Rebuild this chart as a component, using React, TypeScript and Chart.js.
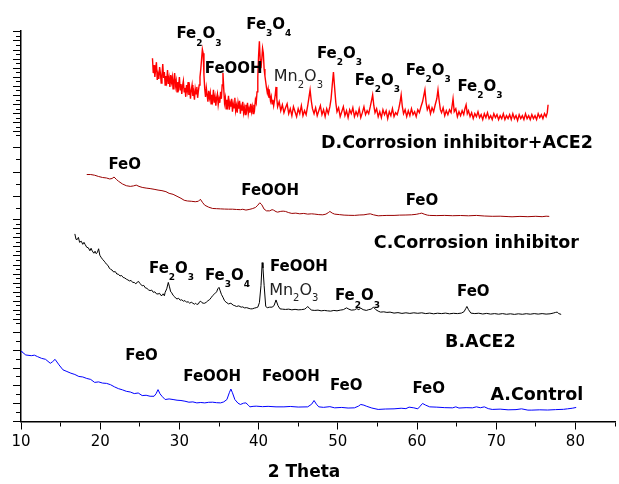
import React, { useEffect, useRef } from "react";
import { Chart, registerables } from "chart.js";

Chart.register(...registerables);

// ---------- DATA (2θ in degrees, intensity in stacked arbitrary units) ----------
const seriesA_Control: [number, number][] = [
  [10.0, 71], [10.1, 70.5], [10.6, 67.2], [11.3, 66.5], [11.7, 67], [12.1, 65.5], [12.6, 63.8], [13.1, 62.8],
  [13.7, 58.8], [14.0, 60.5], [14.3, 62.8], [14.8, 57.2], [15.3, 52.2], [15.8, 50.5], [16.3, 48.8], [16.8, 47.5],
  [17.3, 45.5], [17.8, 45], [18.3, 43.5], [18.8, 42.5], [19.3, 39.5], [19.8, 40], [20.3, 38.8], [20.8, 38.5],
  [21.3, 37.2], [21.8, 35], [22.3, 33.2], [22.8, 32], [23.3, 30.5], [23.8, 29.8], [24.3, 28.2], [24.8, 28.8],
  [25.3, 26.2], [25.8, 26.5], [26.3, 25.5], [26.8, 25.5], [27.05, 28], [27.3, 32.2], [27.55, 28], [27.8, 25.5],
  [28.2, 22.2], [28.7, 22.8], [29.2, 22.2], [29.7, 21.5], [30.2, 21.2], [30.7, 20.5], [31.2, 19.5], [31.7, 19.8],
  [32.2, 18.8], [32.7, 19.2], [33.2, 18.8], [33.7, 19.4], [34.2, 19.5], [34.7, 19], [35.2, 18.8], [35.6, 19.8],
  [36.0, 22.2], [36.3, 29], [36.5, 32.8], [36.7, 29], [37.0, 22.2], [37.4, 18.5], [37.7, 17.2], [38.1, 18.5],
  [38.4, 18.8], [38.7, 16.5], [38.9, 14.8], [39.3, 15.3], [39.7, 15.5], [40.5, 15.0], [41.2, 15.3], [42.2, 14.8],
  [43.2, 14.8], [44.0, 15.2], [45.0, 14.6], [46.2, 14.8], [46.7, 17.5], [47.0, 21.2], [47.3, 17.5], [47.6, 14.8],
  [48.2, 14.3], [49.0, 15.0], [49.6, 13.8], [50.5, 14.2], [51.3, 13.6], [52.1, 13.8], [52.6, 15.5], [52.9, 17.2],
  [53.3, 16.5], [53.6, 15.5], [54.3, 13.6], [55.1, 12.2], [56.0, 12.6], [57.1, 12.8], [58.0, 13.4], [58.6, 13.0],
  [59.0, 14.5], [59.6, 13.8], [60.1, 12.8], [60.4, 15.5], [60.7, 18.2], [61.1, 16.5], [61.6, 14.8], [62.5, 14.5],
  [63.5, 14.0], [64.5, 13.8], [64.9, 14.8], [65.3, 13.6], [66.2, 14.0], [67.0, 13.8], [67.5, 14.8], [68.0, 13.9],
  [68.5, 14.8], [69.0, 13.0], [69.5, 12.2], [70.5, 12.5], [71.5, 11.8], [72.5, 12.0], [73.2, 12.8], [74.0, 11.5],
  [74.5, 11.5], [75.5, 11.8], [76.5, 11.6], [77.5, 12.0], [78.5, 12.3], [79.0, 12.8], [79.6, 13.4], [80.1, 14.2],
];

const seriesB_ACE2: [number, number][] = [
  [16.8, 189.5], [16.95, 184], [17.1, 183.8], [17.25, 186], [17.4, 181], [17.6, 182.2], [17.8, 179], [17.95, 181],
  [18.1, 178.8], [18.3, 176], [18.5, 175.5], [18.7, 172.5], [18.85, 175], [19.0, 172.2], [19.2, 170], [19.35, 172],
  [19.5, 169.5], [19.65, 171], [19.8, 174.5], [19.95, 168], [20.1, 166], [20.3, 163.8], [20.5, 162], [20.65, 160.5],
  [20.8, 158.8], [21.0, 157.5], [21.15, 155], [21.3, 153.8], [21.5, 153], [21.7, 151], [21.9, 151.5], [22.1, 149],
  [22.3, 148.8], [22.5, 147], [22.7, 147.5], [22.9, 145.5], [23.1, 145], [23.3, 143.8], [23.5, 143], [23.7, 142],
  [23.9, 142.5], [24.1, 140.5], [24.3, 140.5], [24.5, 139], [24.7, 141], [24.85, 141.5], [25.0, 139.5], [25.3, 137.2],
  [25.5, 137.5], [25.7, 135], [25.9, 134.5], [26.1, 133], [26.3, 132.2], [26.5, 132.8], [26.7, 130.5], [26.9, 131],
  [27.1, 129], [27.3, 128.8], [27.5, 129.5], [27.65, 127.5], [27.8, 127.2], [27.95, 129], [28.1, 127], [28.2, 130.5],
  [28.4, 134], [28.6, 140.5], [28.75, 136], [28.9, 131], [29.0, 130.5], [29.2, 127.5], [29.4, 126], [29.55, 124.5],
  [29.7, 123.8], [29.9, 124.5], [30.1, 122.5], [30.3, 123], [30.5, 121.5], [30.7, 122.2], [30.9, 120.5], [31.1, 121],
  [31.3, 119.5], [31.5, 120.5], [31.7, 119.5], [31.9, 118.5], [32.05, 119.5], [32.2, 118.2], [32.4, 118.8], [32.55, 121],
  [32.7, 121.5], [32.85, 120], [33.0, 119.5], [33.2, 119.5], [33.4, 120.5], [33.6, 122], [33.8, 123], [34.0, 125],
  [34.2, 127.2], [34.45, 129], [34.7, 131], [34.85, 134], [35.0, 135.5], [35.15, 132], [35.3, 128.5], [35.5, 125.5],
  [35.7, 122], [35.9, 120.5], [36.2, 118.8], [36.5, 119.5], [36.8, 117.5], [37.0, 117], [37.2, 116.2], [37.5, 116.8],
  [37.8, 115.5], [38.0, 115.8], [38.2, 114.8], [38.5, 115], [38.8, 114.2], [39.0, 113.8], [39.2, 113.8], [39.45, 114.5],
  [39.7, 115], [39.9, 115.5], [40.1, 120], [40.3, 137.2], [40.45, 160.5], [40.55, 155], [40.7, 137.2], [40.9, 116.2],
  [41.1, 115], [41.4, 115.5], [41.7, 115.5], [41.95, 117], [42.2, 122.8], [42.45, 117], [42.7, 113.8], [43.0, 113.5],
  [43.4, 113.2], [43.8, 113.5], [44.2, 112.8], [44.6, 113.3], [45.0, 112.8], [45.4, 113], [45.8, 113.5], [46.0, 114.5],
  [46.2, 116.2], [46.45, 114], [46.7, 112.5], [47.1, 112.2], [47.5, 112.5], [47.9, 111.8], [48.3, 112.2], [48.7, 111.8],
  [49.1, 111.5], [49.5, 112.2], [49.9, 111.8], [50.3, 112.5], [50.7, 113], [51.1, 114.8], [51.4, 113.5], [51.7, 112.5],
  [52.1, 112.8], [52.4, 114], [52.65, 113], [52.9, 114.5], [53.2, 113], [53.6, 112.2], [53.9, 113], [54.2, 113.5],
  [54.5, 115.5], [54.8, 113], [55.1, 111.5], [55.4, 110.5], [55.8, 110.8], [56.2, 110.2], [56.6, 110.5], [57.1, 109.5],
  [57.6, 110], [58.1, 109.2], [58.6, 109.8], [59.1, 109.2], [59.6, 109.8], [60.1, 109.3], [60.6, 109.8], [61.1, 109],
  [61.6, 109.5], [62.1, 108.8], [62.6, 109.4], [63.1, 109], [63.6, 109.5], [64.1, 108.8], [64.6, 109.3], [65.1, 109],
  [65.6, 109.5], [65.95, 111], [66.15, 114], [66.3, 116.2], [66.5, 113], [66.8, 109.5], [67.3, 109], [67.8, 109.4],
  [68.3, 108.6], [68.8, 109.2], [69.3, 108.5], [69.8, 109], [70.3, 108.4], [70.8, 109], [71.3, 108.3], [71.8, 108.8],
  [72.3, 108.2], [72.8, 108.8], [73.3, 108.3], [73.8, 108.9], [74.3, 108.4], [74.8, 109], [75.3, 108.5], [75.8, 109],
  [76.3, 108.5], [76.8, 108.8], [77.2, 109.5], [77.5, 110.2], [77.7, 110.5], [77.9, 109], [78.2, 108.2],
];

const seriesC_Inhibitor: [number, number][] = [
  [18.3, 249.5], [18.8, 249.5], [19.3, 248.8], [19.8, 247.5], [20.3, 246.5], [20.8, 246], [21.2, 245], [21.5, 245.5],
  [21.75, 247], [22.05, 244.5], [22.3, 242.8], [22.8, 240], [23.3, 238.2], [23.8, 237.5], [24.2, 238], [24.55, 238.8],
  [24.9, 237.5], [25.3, 236.5], [25.8, 235.8], [26.3, 235.3], [26.8, 234.6], [27.3, 233.8], [27.8, 233.2], [28.3, 232.2],
  [28.7, 230.5], [29.2, 229.5], [29.7, 227.5], [30.2, 225.5], [30.6, 223.5], [31.0, 222.8], [31.5, 222.5], [32.0, 222],
  [32.4, 222.5], [32.65, 224.5], [32.9, 221.5], [33.2, 218.5], [33.7, 216.5], [34.2, 215.2], [34.7, 215], [35.2, 214.8],
  [35.7, 214.6], [36.2, 214.5], [36.7, 214.5], [37.2, 214.2], [37.7, 214], [38.0, 214.4], [38.4, 213.6], [38.8, 214.2],
  [39.2, 215], [39.6, 216.2], [39.9, 218.5], [40.15, 221], [40.4, 219], [40.7, 214.5], [41.0, 212.8], [41.4, 212.8],
  [41.7, 214], [41.9, 213.5], [42.2, 212], [42.4, 211.5], [42.8, 212.3], [43.1, 212.5], [43.4, 212.2], [43.8, 211],
  [44.2, 210.2], [44.7, 210.5], [45.2, 209.8], [45.7, 210.2], [46.2, 209.5], [46.7, 209.8], [47.1, 209.5], [47.6, 209],
  [48.1, 208.8], [48.5, 209.5], [48.8, 211], [49.0, 212.2], [49.3, 210.5], [49.6, 209.5], [50.2, 209], [50.8, 208.5],
  [51.4, 208.3], [52.1, 208.2], [52.7, 208.6], [53.3, 208.8], [53.8, 209.5], [54.1, 209.8], [54.5, 208.8], [55.1, 207.8],
  [55.6, 208], [56.2, 208.2], [57.1, 208.2], [57.8, 208.5], [58.6, 208.6], [59.3, 208.8], [59.9, 209.3], [60.3, 210],
  [60.6, 210.5], [60.9, 209.5], [61.3, 208.5], [61.6, 208.2], [62.5, 208], [63.5, 208.2], [64.5, 207.9], [65.5, 208.1],
  [66.5, 207.8], [67.5, 208.2], [68.5, 207.6], [69.5, 207.3], [70.5, 207.4], [71.5, 207], [72.0, 206.8], [73.0, 207.2],
  [74.0, 206.9], [75.0, 207.3], [75.8, 206.9], [76.3, 207.4], [76.7, 207.2],
];

const seriesD_InhibitorACE2: [number, number][] = [
  [26.6, 367], [26.7, 352], [26.8, 360], [26.9, 348], [27.0, 356], [27.1, 363], [27.2, 345], [27.3, 351],
  [27.4, 346], [27.5, 358], [27.6, 352], [27.7, 342], [27.8, 350], [27.9, 361], [28.0, 347], [28.1, 353],
  [28.2, 340], [28.3, 349], [28.4, 344], [28.5, 355], [28.6, 341], [28.7, 347], [28.8, 338], [28.9, 350],
  [29.0, 343], [29.1, 348], [29.2, 336], [29.3, 345], [29.4, 352], [29.5, 339], [29.6, 344], [29.7, 333],
  [29.8, 343], [29.9, 338], [30.0, 348], [30.1, 335], [30.2, 341], [30.3, 331], [30.4, 339], [30.5, 344],
  [30.6, 333], [30.7, 337], [30.8, 328], [30.9, 340], [31.0, 334], [31.1, 343], [31.2, 330], [31.3, 336],
  [31.4, 326], [31.5, 335], [31.6, 340], [31.7, 329], [31.8, 333], [31.9, 325], [32.0, 336], [32.1, 331],
  [32.2, 338], [32.3, 327], [32.4, 334], [32.5, 340], [32.6, 348], [32.7, 356], [32.8, 366], [32.9, 376],
  [33.0, 372], [33.1, 350], [33.2, 336], [33.3, 328], [33.4, 337], [33.5, 330], [33.6, 323], [33.7, 334],
  [33.8, 327], [33.9, 332], [34.0, 321], [34.1, 330], [34.2, 325], [34.3, 335], [34.4, 322], [34.5, 328],
  [34.6, 319], [34.7, 327], [34.8, 331], [34.9, 320], [35.0, 326], [35.1, 322], [35.2, 333], [35.3, 326],
  [35.4, 340], [35.5, 352], [35.6, 336], [35.7, 322], [35.8, 327], [35.9, 316], [36.0, 325], [36.1, 320],
  [36.2, 329], [36.3, 315], [36.4, 322], [36.5, 318], [36.6, 326], [36.7, 313], [36.8, 321], [36.9, 317],
  [37.0, 327], [37.1, 314], [37.2, 319], [37.3, 312], [37.4, 322], [37.5, 316], [37.6, 324], [37.7, 311],
  [37.8, 318], [37.9, 314], [38.0, 323], [38.1, 312], [38.2, 317], [38.3, 310], [38.4, 320], [38.5, 315],
  [38.6, 322], [38.7, 311], [38.8, 316], [38.9, 312], [39.0, 321], [39.1, 313], [39.2, 318], [39.3, 311],
  [39.4, 320], [39.5, 316], [39.6, 325], [39.7, 322], [39.8, 333], [39.9, 348], [40.0, 370], [40.1, 384],
  [40.2, 366], [40.3, 357], [40.4, 366], [40.5, 377], [40.6, 372], [40.7, 356], [40.8, 349], [40.9, 343],
  [41.0, 337], [41.1, 332], [41.2, 336], [41.3, 327], [41.4, 331], [41.5, 324], [41.6, 328], [41.7, 321],
  [41.8, 325], [41.9, 319], [42.0, 324], [42.1, 330], [42.2, 338], [42.3, 326], [42.4, 318], [42.6, 323],
  [42.8, 314], [43.0, 320], [43.2, 312], [43.4, 317], [43.6, 321], [43.8, 311], [44.0, 316], [44.2, 309],
  [44.4, 318], [44.6, 313], [44.8, 308], [45.0, 316], [45.2, 311], [45.4, 319], [45.6, 309], [45.8, 314],
  [46.0, 310], [46.2, 319], [46.35, 327], [46.5, 335], [46.65, 324], [46.8, 316], [47.0, 311], [47.2, 317],
  [47.4, 309], [47.6, 314], [47.8, 319], [48.0, 310], [48.2, 315], [48.4, 308], [48.6, 316], [48.8, 311],
  [49.0, 318], [49.15, 326], [49.3, 340], [49.45, 353], [49.6, 337], [49.75, 322], [49.9, 313], [50.1, 317],
  [50.3, 308], [50.5, 313], [50.7, 318], [50.9, 309], [51.1, 314], [51.3, 307], [51.5, 315], [51.7, 311],
  [51.9, 317], [52.1, 308], [52.3, 313], [52.5, 309], [52.7, 316], [52.9, 307], [53.1, 312], [53.3, 318],
  [53.5, 310], [53.7, 314], [53.9, 311], [54.1, 318], [54.25, 324], [54.4, 330], [54.55, 319], [54.7, 312],
  [54.9, 316], [55.1, 308], [55.3, 313], [55.5, 307], [55.7, 315], [55.9, 310], [56.1, 314], [56.3, 306],
  [56.5, 313], [56.7, 309], [56.9, 316], [57.1, 308], [57.3, 312], [57.5, 310], [57.7, 316], [57.85, 322],
  [58.0, 330], [58.15, 318], [58.3, 311], [58.5, 315], [58.7, 308], [58.9, 314], [59.1, 309], [59.3, 316],
  [59.5, 310], [59.7, 313], [59.9, 308], [60.1, 315], [60.3, 312], [60.5, 318], [60.7, 323], [60.85, 329],
  [61.0, 335], [61.15, 322], [61.3, 315], [61.5, 319], [61.7, 311], [61.9, 317], [62.1, 313], [62.3, 320],
  [62.5, 326], [62.65, 335], [62.8, 324], [62.95, 315], [63.1, 312], [63.3, 317], [63.5, 309], [63.7, 314],
  [63.9, 310], [64.1, 315], [64.3, 312], [64.45, 320], [64.55, 326], [64.7, 313], [64.9, 316], [65.1, 308],
  [65.3, 313], [65.5, 309], [65.7, 314], [65.9, 310], [66.05, 316], [66.2, 320], [66.35, 311], [66.5, 314],
  [66.7, 308], [66.9, 312], [67.1, 306], [67.3, 311], [67.5, 308], [67.7, 313], [67.9, 307], [68.1, 310],
  [68.3, 305], [68.5, 311], [68.7, 307], [68.9, 312], [69.1, 306], [69.3, 309], [69.5, 305], [69.7, 311],
  [69.9, 307], [70.1, 310], [70.3, 305], [70.5, 309], [70.7, 306], [70.9, 311], [71.1, 305], [71.3, 309],
  [71.5, 306], [71.7, 310], [71.9, 305], [72.1, 311], [72.3, 306], [72.5, 309], [72.7, 304], [72.9, 310],
  [73.1, 306], [73.3, 309], [73.5, 305], [73.7, 311], [73.9, 306], [74.1, 309], [74.3, 305], [74.5, 310],
  [74.7, 306], [74.9, 309], [75.1, 305], [75.3, 311], [75.5, 307], [75.7, 310], [75.9, 306], [76.1, 311],
  [76.3, 308], [76.45, 312], [76.55, 320],
];

// x-axis tick labels (degrees) and left-axis tick values (a.u.)
const xTickLabels = [10, 20, 30, 40, 50, 60, 70, 80];
const yTicksA = [0, 9, 18, 27, 36, 45, 54, 63, 72, 81, 90];
const yTicksB = [98.8, 103.4, 108, 112.5, 117.1, 121.6, 126.2, 130.8, 135.3, 139.9, 144.5, 149, 153.6, 158.1, 162.7,
  167.3, 171.8, 176.4, 181, 185.5, 190.1, 194.6, 199.2, 203.8];
const yTicksC = [215.5, 227.7, 239.8, 252, 264.2, 276.3, 288.5];
const yTicksD = [292.5, 297.1, 301.7, 306.3, 310.9, 315.5, 320.1, 324.7, 329.3, 333.9, 338.5, 343.1, 347.7, 352.3,
  356.9, 361.5, 366.1, 370.7, 375.3, 379.9, 384.5, 389.1, 393.7];

const xAxisTitle = "2 Theta";

// phase labels: "_" marks a subscript digit
const peakLabels: { x: number; y: number; text: string; regular?: boolean }[] = [
  // D
  { x: 29.63, y: 392.5, text: "Fe_2O_3" },
  { x: 33.2, y: 357.5, text: "FeOOH" },
  { x: 38.44, y: 402.5, text: "Fe_3O_4" },
  { x: 41.92, y: 349.5, text: "Mn_2O_3", regular: true },
  { x: 47.37, y: 372.8, text: "Fe_2O_3" },
  { x: 52.15, y: 345.5, text: "Fe_2O_3" },
  { x: 58.57, y: 355.5, text: "Fe_2O_3" },
  { x: 65.11, y: 339.5, text: "Fe_2O_3" },
  // C
  { x: 21.04, y: 260.5, text: "FeO" },
  { x: 37.81, y: 234.5, text: "FeOOH" },
  { x: 58.57, y: 223.8, text: "FeO" },
  // B
  { x: 26.16, y: 155.5, text: "Fe_2O_3" },
  { x: 33.22, y: 148.8, text: "Fe_3O_4" },
  { x: 41.43, y: 157.2, text: "FeOOH" },
  { x: 41.33, y: 133.8, text: "Mn_2O_3", regular: true },
  { x: 49.64, y: 127.8, text: "Fe_2O_3" },
  { x: 65.05, y: 132.2, text: "FeO" },
  // A
  { x: 23.17, y: 67.2, text: "FeO" },
  { x: 30.49, y: 46.2, text: "FeOOH" },
  { x: 40.43, y: 46.2, text: "FeOOH" },
  { x: 49.01, y: 37.8, text: "FeO" },
  { x: 59.43, y: 34.5, text: "FeO" },
];

const seriesLabels: { x: number; y: number; text: string }[] = [
  { x: 47.88, y: 282.8, text: "D.Corrosion inhibitor+ACE2" },
  { x: 54.55, y: 181.5, text: "C.Corrosion inhibitor" },
  { x: 63.55, y: 82.2, text: "B.ACE2" },
  { x: 69.27, y: 28.2, text: "A.Control" },
];

const FONT = '"DejaVu Sans", "Liberation Sans", Arial, sans-serif';

function drawRich(ctx: CanvasRenderingContext2D, text: string, x: number, yMid: number, size: number, subSize: number, weight: string, subDrop: number) {
  const base = yMid + 0.3645 * size;
  let px = x;
  const parts: { t: string; sub: boolean }[] = [];
  let i = 0;
  while (i < text.length) {
    if (text[i] === "_") { parts.push({ t: text[i + 1], sub: true }); i += 2; }
    else {
      let j = i;
      while (j < text.length && text[j] !== "_") j++;
      parts.push({ t: text.slice(i, j), sub: false });
      i = j;
    }
  }
  for (const p of parts) {
    if (p.sub) {
      ctx.font = `${weight} ${subSize}px ${FONT}`;
      ctx.fillText(p.t, px, base + subDrop);
    } else {
      ctx.font = `${weight} ${size}px ${FONT}`;
      ctx.fillText(p.t, px, base);
    }
    px += ctx.measureText(p.t).width;
  }
}

const labelPlugin = {
  id: "phaseLabels",
  afterDatasetsDraw(chart: any) {
    const { ctx, scales, chartArea } = chart;
    const xs = scales.x;
    const ys = scales.y;
    ctx.save();
    ctx.textAlign = "left";
    ctx.textBaseline = "alphabetic";
    for (const l of peakLabels) {
      const px = xs.getPixelForValue(l.x);
      const py = ys.getPixelForValue(l.y);
      if (l.regular) {
        ctx.fillStyle = "#222";
        drawRich(ctx, l.text, px, py, 16, 10, "normal", 6.3);
      } else {
        ctx.fillStyle = "#000";
        drawRich(ctx, l.text, px, py, 15, 9, "bold", 7.4);
      }
    }
    ctx.fillStyle = "#000";
    for (const l of seriesLabels) {
      drawRich(ctx, l.text, xs.getPixelForValue(l.x), ys.getPixelForValue(l.y), 17.5, 10, "bold", 7);
    }
    // x-axis title, placed slightly left of the axis centre as in the source figure
    ctx.font = `bold 17px ${FONT}`;
    ctx.textAlign = "center";
    ctx.fillText(xAxisTitle, (chartArea.left + chartArea.right) / 2 - 14, chartArea.bottom + 55);
    ctx.restore();
  },
};

const toPts = (arr: [number, number][]) => arr.map(([x, y]) => ({ x, y }));

export default function App() {
  const ref = useRef<HTMLCanvasElement | null>(null);
  useEffect(() => {
    if (!ref.current) return;
    const yTicks = [...yTicksA, ...yTicksB, ...yTicksC, ...yTicksD];
    const chart = new Chart(ref.current, {
      type: "line",
      data: {
        datasets: [
          { label: "A.Control", data: toPts(seriesA_Control), borderColor: "#0000FF", borderWidth: 1, pointRadius: 0, tension: 0 },
          { label: "B.ACE2", data: toPts(seriesB_ACE2), borderColor: "#000000", borderWidth: 1, pointRadius: 0, tension: 0 },
          { label: "C.Corrosion inhibitor", data: toPts(seriesC_Inhibitor), borderColor: "#990000", borderWidth: 1, pointRadius: 0, tension: 0 },
          { label: "D.Corrosion inhibitor+ACE2", data: toPts(seriesD_InhibitorACE2), borderColor: "#FF0000", borderWidth: 1.4, pointRadius: 0, tension: 0 },
        ],
      },
      options: {
        animation: false,
        responsive: false,
        devicePixelRatio: 1,
        parsing: false as any,
        layout: { padding: { left: 13, right: 2, top: 30.5, bottom: 28.5 } },
        plugins: { legend: { display: false }, tooltip: { enabled: false } },
        scales: {
          x: {
            type: "linear",
            min: 10,
            max: 85,
            border: { display: true, color: "#000", width: 1.5 },
            grid: {
              drawOnChartArea: false,
              drawTicks: true,
              tickLength: 8,
              tickColor: "#000",
              tickWidth: 1,
              tickBorderDash: (c: any) => (c.tick && xTickLabels.includes(c.tick.value) ? [] : [4, 20]),
            } as any,
            ticks: {
              stepSize: 5,
              autoSkip: false,
              maxRotation: 0,
              padding: 4,
              color: "#000",
              font: { family: FONT, size: 15 },
              callback: (v: any) => (xTickLabels.includes(Number(v)) ? String(v) : ""),
            },
          },
          y: {
            type: "linear",
            min: 0,
            max: 395,
            border: { display: true, color: "#000", width: 1.5 },
            grid: {
              drawOnChartArea: false,
              drawTicks: true,
              tickLength: 8,
              tickColor: "#000",
              tickWidth: 1,
              tickBorderDash: (c: any) => (c.index % 2 === 0 ? [] : [0, 3, 5, 20]),
            } as any,
            ticks: { display: false },
            afterBuildTicks: (axis: any) => {
              axis.ticks = yTicks.map((v) => ({ value: v }));
            },
          },
        },
      },
      plugins: [labelPlugin],
    });
    return () => chart.destroy();
  }, []);
  return (
    <div style={{ position: "absolute", left: 0, top: 0, width: 619, height: 484, background: "#fff" }}>
      <canvas ref={ref} width={619} height={484} style={{ display: "block" }} />
    </div>
  );
}
